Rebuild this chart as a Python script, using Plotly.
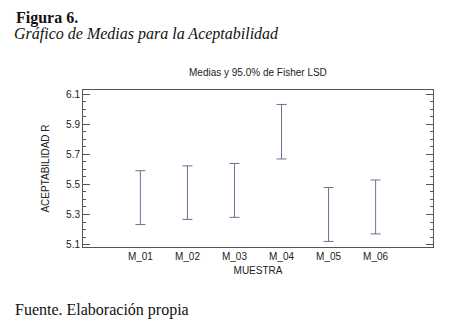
import plotly.graph_objects as go

categories = ["M_01", "M_02", "M_03", "M_04", "M_05", "M_06"]
means = [5.412, 5.445, 5.460, 5.850, 5.300, 5.350]
half_lsd = [0.179, 0.178, 0.179, 0.181, 0.179, 0.179]
y_ticks = [5.1, 5.3, 5.5, 5.7, 5.9, 6.1]

positions = list(range(len(categories)))

fig = go.Figure()
fig.add_trace(go.Scatter(
    x=positions, y=means, mode="markers",
    marker=dict(size=1, color="rgba(0,0,0,0)"),
    error_y=dict(type="data", array=half_lsd, symmetric=True,
                 color="#6d6f92", thickness=1, width=5),
    showlegend=False, hoverinfo="skip",
))

L, R, T, B = 83, 22, 90, 78
W, H = 455, 325
ph = H - T - B
pw = W - L - R

def px_y(py):
    return (H - B - py) / ph

def px_x(px):
    return (px - L) / pw

axis_font = dict(family="Liberation Sans, Arial, sans-serif", size=10, color="#222")
serif = "Liberation Serif, Times New Roman, serif"

fig.update_layout(
    width=W, height=H,
    margin=dict(l=L, r=R, t=T, b=B, autoexpand=False),
    paper_bgcolor="white", plot_bgcolor="white",
    font=axis_font,
    xaxis=dict(
        tickmode="array", tickvals=positions, ticktext=categories,
        range=[-1.22, 6.22], showgrid=False, zeroline=False,
        showline=True, linecolor="#555", linewidth=1, mirror=True,
        ticks="", tickfont=axis_font, automargin=False,
        title=dict(text="MUESTRA", font=axis_font, standoff=5),
    ),
    yaxis=dict(
        tickmode="array", tickvals=y_ticks,
        ticktext=[f"{v:.1f}" for v in y_ticks],
        range=[5.084, 6.127], showgrid=False, zeroline=False,
        showline=True, linecolor="#555", linewidth=1, mirror="allticks",
        ticks="inside", ticklen=7, tickcolor="#555", tickwidth=1,
        minor=dict(dtick=0.05, tick0=5.1, ticks="inside", ticklen=3,
                   tickcolor="#555", tickwidth=1, showgrid=False),
        tickfont=axis_font, automargin=False,
        title=dict(text="ACEPTABILIDAD R", font=axis_font, standoff=14),
    ),
    annotations=[
        dict(text="Medias y 95.0% de Fisher LSD", xref="paper", yref="paper",
             x=0.5, y=px_y(72), xanchor="center", yanchor="middle",
             showarrow=False, font=axis_font),
        dict(text="<b>Figura 6.</b>", xref="paper", yref="paper",
             x=px_x(14), y=px_y(18), xanchor="left", yanchor="middle",
             showarrow=False, font=dict(family=serif, size=16, color="#111")),
        dict(text="<i>Gráfico de Medias para la Aceptabilidad</i>", xref="paper", yref="paper",
             x=px_x(12), y=px_y(34), xanchor="left", yanchor="middle",
             showarrow=False, font=dict(family=serif, size=16, color="#111")),
        dict(text="Fuente. Elaboración propia", xref="paper", yref="paper",
             x=px_x(13), y=px_y(310), xanchor="left", yanchor="middle",
             showarrow=False, font=dict(family=serif, size=16, color="#111")),
    ],
)

fig.write_html("out.html", config={"displayModeBar": False},
               post_script="document.body.style.margin='0';document.body.style.overflow='hidden';")
